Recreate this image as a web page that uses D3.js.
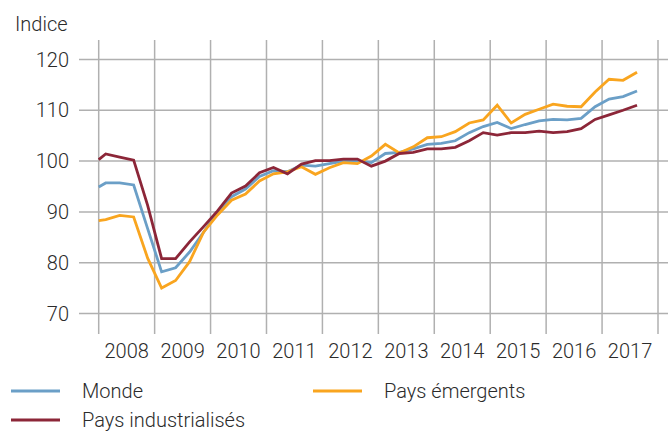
<!DOCTYPE html>
<html>
<head>
<meta charset="utf-8">
<script src="https://cdn.jsdelivr.net/npm/d3@7"></script>
<style>
  body { margin: 0; background: #fff; }
  text { font-family: Roboto, "Liberation Sans", sans-serif; font-weight: 300; fill: #2b2b2b; }
</style>
</head>
<body>
<svg id="chart"></svg>
<script>
// quarterly points (mid-quarter), plus the value at the very start of 2008
var dates = [2008.0,
  2008.125, 2008.375, 2008.625, 2008.875,
  2009.125, 2009.375, 2009.625, 2009.875,
  2010.125, 2010.375, 2010.625, 2010.875,
  2011.125, 2011.375, 2011.625, 2011.875,
  2012.125, 2012.375, 2012.625, 2012.875,
  2013.125, 2013.375, 2013.625, 2013.875,
  2014.125, 2014.375, 2014.625, 2014.875,
  2015.125, 2015.375, 2015.625, 2015.875,
  2016.125, 2016.375, 2016.625, 2016.875,
  2017.125, 2017.375, 2017.625];

var monde = [94.9,
  95.7, 95.7, 95.3, 86.7,
  78.2, 79.0, 82.1, 86.0,
  90.0, 93.0, 94.5, 97.0,
  98.1, 97.9, 99.2, 99.0,
  99.5, 100.0, 100.0, 99.7,
  101.5, 101.7, 102.4, 103.3,
  103.5, 104.0, 105.6, 106.8,
  107.6, 106.4, 107.2, 107.9,
  108.2, 108.1, 108.4, 110.7,
  112.2, 112.7, 113.8];

var industrialises = [100.3,
  101.4, 100.8, 100.2, 91.3,
  80.8, 80.8, 84.1, 87.1,
  90.2, 93.7, 95.1, 97.7,
  98.75, 97.5, 99.4, 100.1,
  100.1, 100.4, 100.4, 99.0,
  100.0, 101.5, 101.7, 102.4,
  102.4, 102.7, 104.0, 105.6,
  105.1, 105.6, 105.6, 105.9,
  105.6, 105.8, 106.4, 108.2,
  109.1, 110.0, 111.0];

var emergents = [88.3,
  88.5, 89.3, 89.0, 80.9,
  75.0, 76.5, 80.2, 86.0,
  89.4, 92.3, 93.5, 96.1,
  97.5, 97.9, 98.9, 97.4,
  98.7, 99.7, 99.5, 101.0,
  103.3, 101.6, 102.8, 104.6,
  104.8, 105.8, 107.5, 108.1,
  111.0, 107.5, 109.2, 110.2,
  111.2, 110.8, 110.7, 113.6,
  116.1, 115.9, 117.5];

var years = [2008, 2009, 2010, 2011, 2012, 2013, 2014, 2015, 2016, 2017];
var yTicks = [70, 80, 90, 100, 110, 120];

var seriesNames = ["Monde", "Pays émergents", "Pays industrialisés"];
var seriesColors = ["#6b9fc7", "#f9a51f", "#8c2638"];

var width = 668, height = 432;
var svg = d3.select("#chart").attr("width", width).attr("height", height);

var x = d3.scaleLinear().domain([2008, 2018]).range([98.7, 658]);
var y = d3.scaleLinear().domain([70, 120]).range([313.5, 59.5]);

// horizontal grid + y labels
svg.selectAll(".hgrid")
  .data(yTicks)
  .enter().append("line")
  .attr("class", "hgrid")
  .attr("x1", 79).attr("x2", width)
  .attr("y1", function(d){ return y(d); })
  .attr("y2", function(d){ return y(d); })
  .attr("stroke", "#b0b0b0")
  .attr("stroke-width", 1.5);

svg.selectAll(".ylab")
  .data(yTicks)
  .enter().append("text")
  .attr("class", "ylab")
  .attr("x", 69)
  .attr("y", function(d){ return y(d) + 7; })
  .attr("text-anchor", "end")
  .style("font-size", "20px")
  .text(function(d){ return d; });

// vertical grid, year boundaries
var bounds = years.concat([2018]);
svg.selectAll(".vgrid")
  .data(bounds)
  .enter().append("line")
  .attr("class", "vgrid")
  .attr("x1", function(d){ return x(d); })
  .attr("x2", function(d){ return x(d); })
  .attr("y1", 40).attr("y2", 334)
  .attr("stroke", "#b0b0b0")
  .attr("stroke-width", 1.5);

svg.selectAll(".xlab")
  .data(years)
  .enter().append("text")
  .attr("class", "xlab")
  .attr("x", function(d){ return x(d + 0.5); })
  .attr("y", 358)
  .attr("text-anchor", "middle")
  .style("font-size", "20px")
  .text(function(d){ return d; });

svg.append("text")
  .attr("x", 15).attr("y", 31)
  .style("font-size", "20px")
  .text("Indice");

// lines
var line = d3.line()
  .x(function(d){ return x(d[0]); })
  .y(function(d){ return y(d[1]); });

var allSeries = [monde, emergents, industrialises];
[0, 1, 2].forEach(function(i){
  svg.append("path")
    .datum(dates.map(function(t, j){ return [t, allSeries[i][j]]; }))
    .attr("fill", "none")
    .attr("stroke", seriesColors[i])
    .attr("stroke-width", 2.8)
    .attr("d", line);
});

// legend
var legendPos = [[11, 391], [313, 391], [11, 420]];
seriesNames.forEach(function(name, i){
  var p = legendPos[i];
  svg.append("line")
    .attr("x1", p[0]).attr("x2", p[0] + 49)
    .attr("y1", p[1]).attr("y2", p[1])
    .attr("stroke", seriesColors[i])
    .attr("stroke-width", 2.8);
  svg.append("text")
    .attr("x", p[0] + 71)
    .attr("y", p[1] + 7)
    .style("font-size", "20px")
    .text(name);
});
</script>
</body>
</html>
